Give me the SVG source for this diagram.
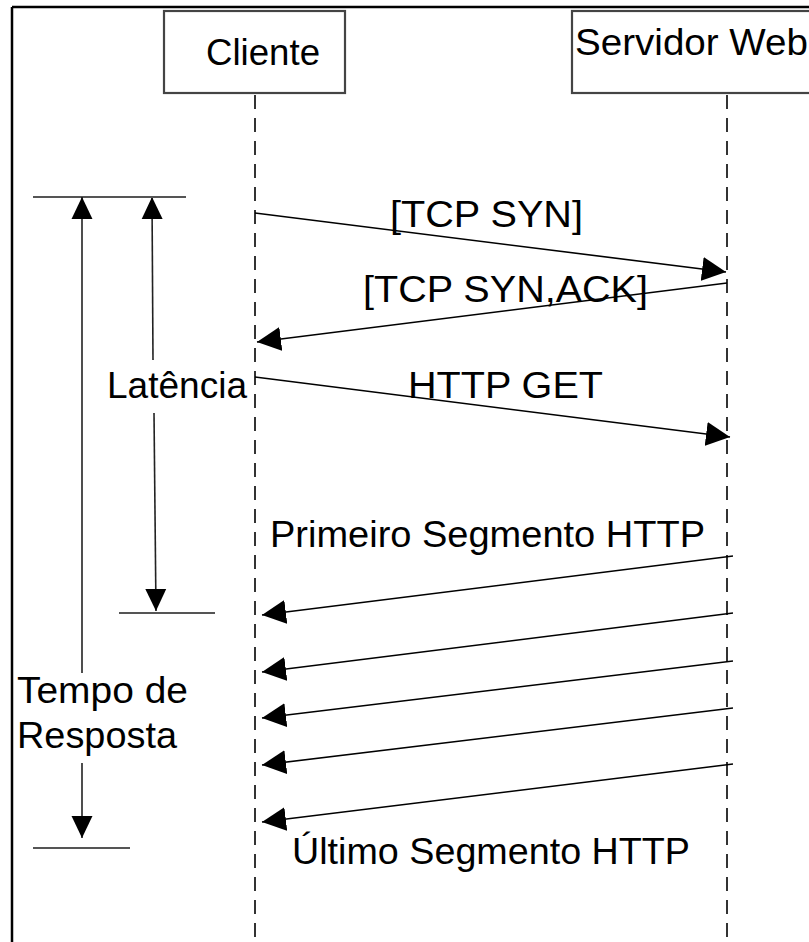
<svg xmlns="http://www.w3.org/2000/svg" width="809" height="942" viewBox="0 0 809 942">
<style>
  text { font-family: "Liberation Sans", Arial, sans-serif; font-size: 36px; fill: #000; }
  .box { fill: #fff; stroke: #444; stroke-width: 2.2; }
  .life { stroke: #333; stroke-width: 2; stroke-dasharray: 14 9; fill: none; }
  .msg { stroke: #000; stroke-width: 1.6; fill: none; }
  .bar { stroke: #222; stroke-width: 1.6; fill: none; }
  .tick { stroke: #555; stroke-width: 2.2; fill: none; }
  .frame { stroke: #000; stroke-width: 2.5; fill: none; }
</style>
<defs>
  <marker id="ah" markerUnits="userSpaceOnUse" markerWidth="24" markerHeight="24" viewBox="0 0 23 23" refX="23" refY="11.5" orient="auto">
    <path d="M0,0 L23,11.5 L0,23 z" fill="#000"/>
  </marker>
  <marker id="bh" markerUnits="userSpaceOnUse" markerWidth="22" markerHeight="22" viewBox="0 0 21 20" refX="21" refY="10" orient="auto">
    <path d="M0,0 L21,10 L0,20 z" fill="#000"/>
  </marker>
</defs>
<rect width="809" height="942" fill="#fff"/>
<g id="frame">
  <line class="frame" x1="12" y1="7" x2="809" y2="7"/>
  <line class="frame" x1="12" y1="7" x2="12" y2="942"/>
</g>
<g id="cliente">
  <rect class="box" x="164" y="11" width="181" height="82"/>
  <text x="206" y="65" textLength="114" lengthAdjust="spacingAndGlyphs">Cliente</text>
  <line class="life" x1="255" y1="95" x2="255" y2="942"/>
</g>
<g id="servidor">
  <rect class="box" x="572" y="11" width="250" height="82"/>
  <text x="575" y="55" textLength="233" lengthAdjust="spacingAndGlyphs">Servidor Web</text>
  <line class="life" x1="727" y1="95" x2="727" y2="942"/>
</g>
<g id="latencia">
  <line class="tick" x1="119" y1="613" x2="215" y2="613"/>
  <line class="bar" x1="153" y1="360" x2="152" y2="197" marker-end="url(#bh)"/>
  <line class="bar" x1="154" y1="413" x2="156" y2="611" marker-end="url(#bh)"/>
  <text x="107" y="398" textLength="140" lengthAdjust="spacingAndGlyphs">Latência</text>
</g>
<g id="tempo">
  <line class="tick" x1="33" y1="197" x2="186" y2="197"/>
  <line class="tick" x1="33" y1="848" x2="130" y2="848"/>
  <line class="bar" x1="82" y1="673" x2="82" y2="197" marker-end="url(#bh)"/>
  <line class="bar" x1="82" y1="763" x2="82" y2="838" marker-end="url(#bh)"/>
  <text x="17" y="703" textLength="171" lengthAdjust="spacingAndGlyphs">Tempo de</text>
  <text x="17" y="748" textLength="160" lengthAdjust="spacingAndGlyphs">Resposta</text>
</g>
<g id="connectors">
  <line class="msg" x1="255" y1="213" x2="726" y2="272" marker-end="url(#ah)"/>
  <line class="msg" x1="727" y1="283" x2="257" y2="342" marker-end="url(#ah)"/>
  <line class="msg" x1="255" y1="377" x2="730" y2="437" marker-end="url(#ah)"/>
  <line class="msg" x1="733" y1="556" x2="262" y2="615" marker-end="url(#ah)"/>
  <line class="msg" x1="733" y1="613" x2="262" y2="672" marker-end="url(#ah)"/>
  <line class="msg" x1="733" y1="661" x2="262" y2="718" marker-end="url(#ah)"/>
  <line class="msg" x1="733" y1="708" x2="262" y2="765" marker-end="url(#ah)"/>
  <line class="msg" x1="733" y1="764" x2="262" y2="822" marker-end="url(#ah)"/>
</g>
<g id="labels">
  <text x="390" y="227" textLength="193" lengthAdjust="spacingAndGlyphs">[TCP SYN]</text>
  <text x="363" y="302" textLength="285" lengthAdjust="spacingAndGlyphs">[TCP SYN,ACK]</text>
  <text x="408" y="398" textLength="195" lengthAdjust="spacingAndGlyphs">HTTP GET</text>
  <text x="270" y="547" textLength="435" lengthAdjust="spacingAndGlyphs">Primeiro Segmento HTTP</text>
  <text x="292" y="864" textLength="398" lengthAdjust="spacingAndGlyphs">Último Segmento HTTP</text>
</g>
</svg>
